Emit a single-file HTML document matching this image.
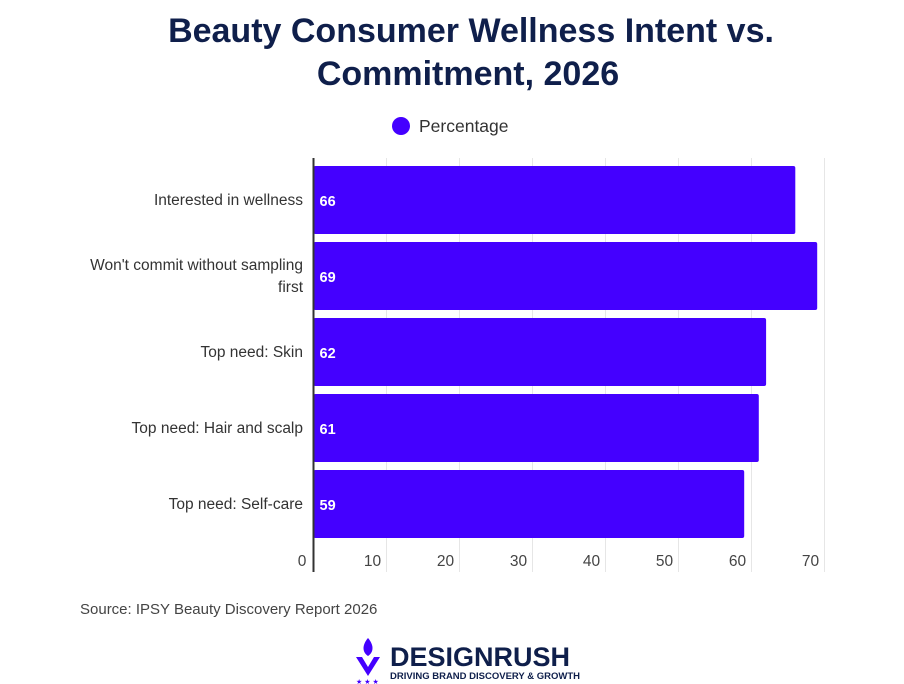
<!DOCTYPE html>
<html><head><meta charset="utf-8"><style>
body{margin:0;background:#fff;font-family:"Liberation Sans",sans-serif;}
#wrap{position:relative;width:904px;height:684px;overflow:hidden}
</style></head><body>
<div id="wrap">
<svg id="chart" width="904" height="684">
<text x="471" y="42" text-anchor="middle" font-size="34" font-weight="bold" fill="#0f1f4b">Beauty Consumer Wellness Intent vs.</text>
<text x="468" y="85" text-anchor="middle" font-size="34" font-weight="bold" fill="#0f1f4b">Commitment, 2026</text>
<circle cx="401" cy="126" r="9" fill="#4400ff"/>
<text x="419" y="132" font-size="17.5" fill="#333">Percentage</text>
<g id="grid"></g><g id="bars"></g><g id="ylabels"></g><g id="xticks"></g>
<line x1="313.5" y1="158" x2="313.5" y2="572" stroke="#333" stroke-width="2"/>
<text x="80" y="614" font-size="15" fill="#444">Source: IPSY Beauty Discovery Report 2026</text>
<g>
<path d="M356 657 L368 676 L380 657 L374 657 L368 667 L362 657Z" fill="#4400ff"/>
<path d="M368 638 C362 645 362 652 368 656 C374 652 374 645 368 638Z" fill="#4400ff"/>
<text x="356" y="684" font-size="7" fill="#4400ff">★ ★ ★</text>
<text x="390" y="666" font-size="27" font-weight="bold" fill="#0f1f4b">DESIGNRUSH</text>
<text x="390" y="679" font-size="9.5" font-weight="bold" fill="#0f1f4b">DRIVING BRAND DISCOVERY &amp; GROWTH</text>
</g>
</svg>
</div>
<script>
const categories=["Interested in wellness","Won't commit without sampling first","Top need: Skin","Top need: Hair and scalp","Top need: Self-care"];
const values=[66,69,62,61,59];
const tickValues=[0,10,20,30,40,50,60,70];
const ns="http://www.w3.org/2000/svg";
const x0=313.5,unit=7.3,bandTop=162,band=76;
const xs=v=>x0+v*unit;
function mk(t,a,p){const e=document.createElementNS(ns,t);for(const k in a)e.setAttribute(k,a[k]);p.appendChild(e);return e;}
const grid=document.getElementById('grid'),bars=document.getElementById('bars'),yl=document.getElementById('ylabels'),xt=document.getElementById('xticks');
tickValues.forEach(v=>{
 if(v>0){const l=mk('line',{x1:xs(v),x2:xs(v),y1:158,y2:572,stroke:'#e6e6e6'},grid);
 
 }
 const t=mk('text',{x:v===0?302:xs(v)-14,y:566,'text-anchor':'middle','font-size':15.5,fill:'#444'},xt);
 t.textContent=v;
 
 
});
categories.forEach((c,i)=>{
 const y=bandTop+i*band+4;
 const r=mk('rect',{x:x0,y:y,width:xs(values[i])-x0,height:68,rx:2,fill:'#4400ff'},bars);
 
 
 const v=mk('text',{x:x0+6,y:y+40,'font-size':14.5,'font-weight':'bold',fill:'#fff'},bars);
 v.textContent=values[i];
 
 
 const t=mk('text',{x:303,y:y+39,'text-anchor':'end','font-size':15.5,fill:'#333'},yl);
 
 
 if(c.length>30){const p=c.lastIndexOf(' ');
  const a=mk('tspan',{x:303,dy:-11},t);a.textContent=c.slice(0,p);
  const b=mk('tspan',{x:303,dy:22},t);b.textContent=c.slice(p+1);}
 else t.textContent=c;
});
</script>
</body></html>
